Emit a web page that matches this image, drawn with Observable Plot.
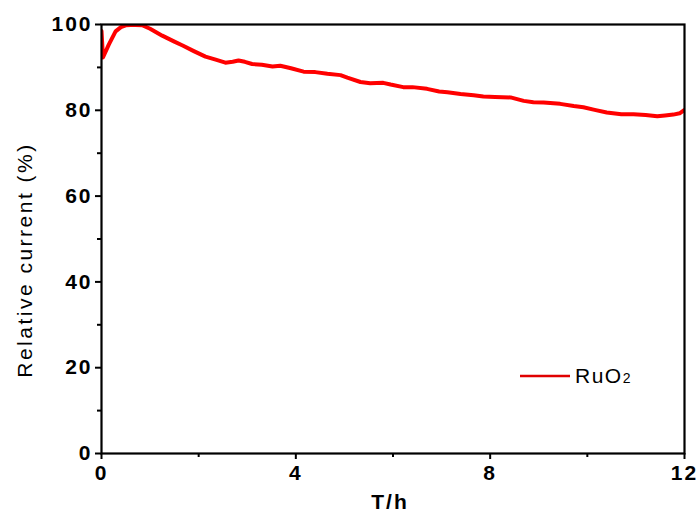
<!DOCTYPE html>
<html>
<head>
<meta charset="utf-8">
<script src="https://cdn.jsdelivr.net/npm/d3@7"></script>
<script src="https://cdn.jsdelivr.net/npm/@observablehq/plot@0.6"></script>
<style>
  html, body { margin: 0; padding: 0; background: #fff; }
  #chart { width: 697px; height: 513px; }
</style>
</head>
<body>
<div id="chart"></div>
<script>
// Time (hours) and relative current (%)
const timeH = [0, 0.03, 0.15, 0.29, 0.4, 0.5, 0.6, 0.7, 0.85, 1.0, 1.25, 1.5, 1.67, 1.9, 2.14, 2.35, 2.55, 2.7, 2.82, 2.95, 3.1, 3.3, 3.52, 3.68, 3.9, 4.16, 4.4, 4.65, 4.92, 5.06, 5.33, 5.53, 5.8, 5.95, 6.21, 6.4, 6.7, 6.95, 7.12, 7.39, 7.66, 7.86, 8.1, 8.42, 8.69, 8.89, 9.1, 9.44, 9.72, 9.92, 10.15, 10.4, 10.7, 10.95, 11.2, 11.44, 11.6, 11.77, 11.9, 12];
const relCurrent = [98.5, 92.3, 95.3, 98.4, 99.4, 99.8, 99.9, 99.9, 99.8, 99.0, 97.4, 96.0, 95.1, 93.8, 92.5, 91.8, 91.1, 91.3, 91.6, 91.3, 90.8, 90.6, 90.2, 90.4, 89.8, 89.0, 88.9, 88.5, 88.2, 87.6, 86.6, 86.3, 86.4, 86.0, 85.4, 85.4, 85.0, 84.4, 84.2, 83.8, 83.5, 83.2, 83.1, 83.0, 82.2, 81.9, 81.8, 81.5, 81.0, 80.7, 80.1, 79.5, 79.1, 79.1, 78.9, 78.6, 78.8, 79.0, 79.3, 80.1];

const xMajorTicks = [0, 4, 8, 12];
const xMinorTicks = [2, 6, 10];
const yMajorTicks = [0, 20, 40, 60, 80, 100];
const yMinorTicks = [10, 30, 50, 70, 90];
const seriesName = "RuO";
const seriesSub = "2";
const xLabel = "T/h";
const yLabel = "Relative current (%)";

const data = timeH.map((t, i) => ({t, v: relCurrent[i]}));
const FONT = "'Liberation Sans', Arial, sans-serif";

const plot = Plot.plot({
  width: 697,
  height: 513,
  marginLeft: 101,
  marginRight: 13,
  marginTop: 24,
  marginBottom: 60,
  style: {fontFamily: FONT, background: "#fff", color: "#000"},
  x: {domain: [0, 12]},
  y: {domain: [0, 100]},
  marks: [
    Plot.line(data, {x: "t", y: "v", stroke: "#ff0000", strokeWidth: 4, clip: true}),
    Plot.axisX(xMinorTicks, {tickSize: 4, text: null, strokeWidth: 2, label: null}),
    Plot.axisY(yMinorTicks, {tickSize: 4, text: null, strokeWidth: 2, label: null}),
    Plot.axisX(xMajorTicks, {tickSize: 6, tickPadding: 6, strokeWidth: 2, label: null, tickFormat: d => d}),
    Plot.axisY(yMajorTicks, {tickSize: 6, tickPadding: 3, strokeWidth: 2, label: null, tickFormat: d => d}),
    Plot.frame({stroke: "#000", strokeWidth: 2.2})
  ]
});

const svg = d3.select(plot);
svg.selectAll("g[aria-label='x-axis tick label'] text, g[aria-label='y-axis tick label'] text")
  .style("font-family", FONT)
  .style("font-size", "21px")
  .style("font-weight", "bold")
  .style("letter-spacing", "2px");

// Axis titles
svg.append("text")
  .attr("x", 390).attr("y", 509)
  .attr("text-anchor", "middle")
  .style("font-family", FONT)
  .style("font-size", "21px").style("font-weight", "bold")
  .style("letter-spacing", "2px")
  .attr("fill", "#000")
  .text(xLabel);

svg.append("text")
  .attr("transform", "translate(32,260) rotate(-90)")
  .attr("text-anchor", "middle")
  .style("font-family", FONT)
  .style("font-size", "21px")
  .style("letter-spacing", "2.5px")
  .attr("fill", "#000")
  .text(yLabel);

// Legend
const lg = svg.append("g");
lg.append("line")
  .attr("x1", 520).attr("x2", 570).attr("y1", 376).attr("y2", 376)
  .attr("stroke", "#e00000").attr("stroke-width", 2.5);
const lt = lg.append("text")
  .attr("x", 575).attr("y", 383)
  .attr("text-anchor", "start")
  .style("font-family", FONT)
  .style("font-size", "21px")
  .style("letter-spacing", "1.5px")
  .attr("fill", "#000");
lt.append("tspan").text(seriesName);
lt.append("tspan").style("font-size", "14px").text(seriesSub);

document.getElementById("chart").appendChild(plot);
</script>
</body>
</html>
